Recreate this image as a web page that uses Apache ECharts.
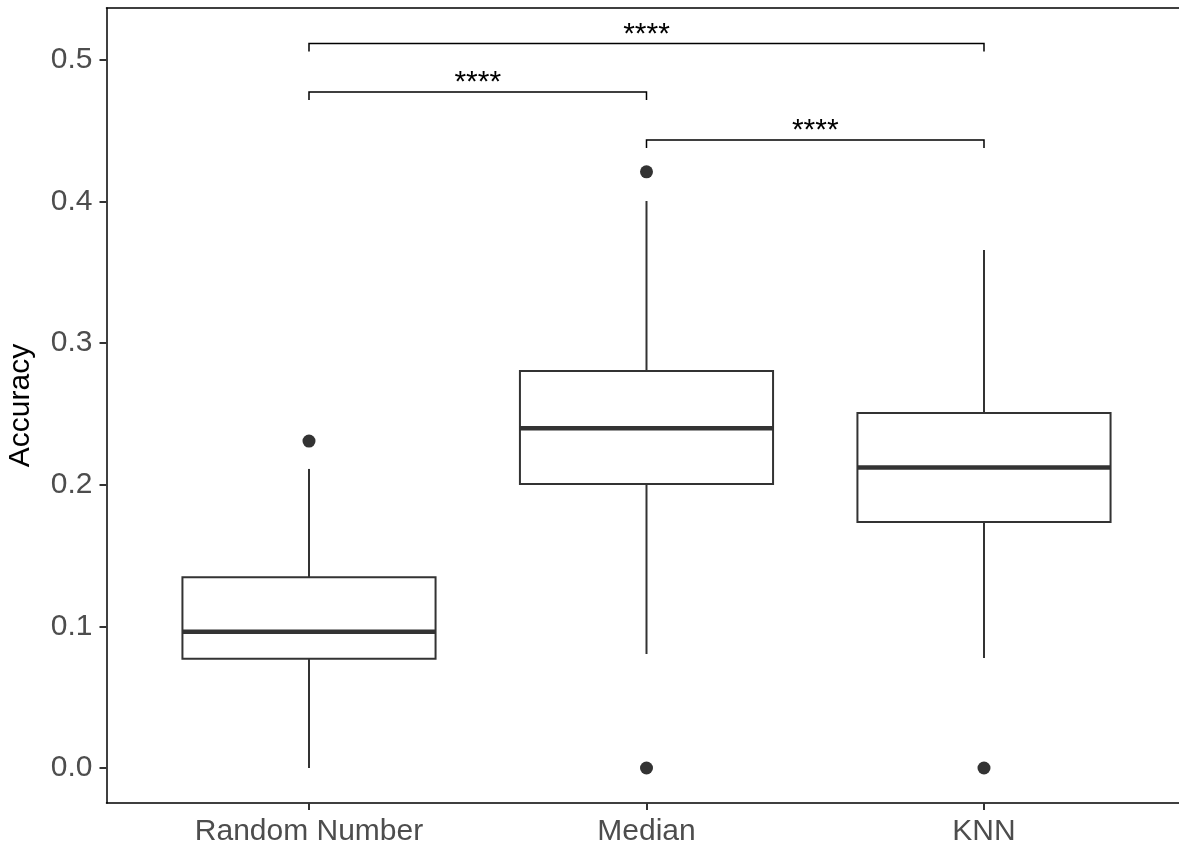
<!DOCTYPE html>
<html>
<head>
<meta charset="utf-8">
<script src="https://cdn.jsdelivr.net/npm/echarts@6/dist/echarts.min.js"></script>
<style>
  html, body { margin: 0; padding: 0; background: #fff; }
  #main { width: 1179px; height: 851px; }
</style>
</head>
<body>
<div id="main"></div>
<script>
const categories = ['Random Number', 'Median', 'KNN'];
const whiskerLow = [0.0, 0.0805, 0.0777];
const q1 = [0.0772, 0.2006, 0.1737];
const medians = [0.0963, 0.240, 0.2122];
const q3 = [0.1347, 0.2804, 0.2507];
const whiskerHigh = [0.2112, 0.4004, 0.3658];
const outliers = [[1, 0.2309], [2, 0.421], [2, 0.0], [3, 0.0]];
const yTicks = [0, 0.1, 0.2, 0.3, 0.4, 0.5];
const bracketFrom = [1, 1, 2];
const bracketTo = [3, 2, 3];
const bracketY = [0.5117, 0.4774, 0.4435];
const bracketLabel = ['****', '****', '****'];

const font = 'Liberation Sans, Arial, sans-serif';
const dark = '#333333';

const boxData = categories.map((c, i) => [i + 1, whiskerLow[i], q1[i], medians[i], q3[i], whiskerHigh[i]]);
const bracketData = bracketFrom.map((v, i) => [v, bracketTo[i], bracketY[i], bracketLabel[i]]);

function renderBox(params, api) {
  const x = api.value(0);
  const half = api.size([0.75, 0])[0] / 2;
  const pLow = api.coord([x, api.value(1)]);
  const pQ1 = api.coord([x, api.value(2)]);
  const pMed = api.coord([x, api.value(3)]);
  const pQ3 = api.coord([x, api.value(4)]);
  const pHigh = api.coord([x, api.value(5)]);
  const lineStyle = { stroke: dark, lineWidth: 2, fill: null };
  return {
    type: 'group',
    children: [
      { type: 'line', shape: { x1: pHigh[0], y1: pHigh[1], x2: pQ3[0], y2: pQ3[1] }, style: lineStyle },
      { type: 'line', shape: { x1: pQ1[0], y1: pQ1[1], x2: pLow[0], y2: pLow[1] }, style: lineStyle },
      { type: 'rect', shape: { x: pQ3[0] - half, y: pQ3[1], width: half * 2, height: pQ1[1] - pQ3[1] },
        style: { stroke: dark, lineWidth: 2, fill: '#fff' } },
      { type: 'line', shape: { x1: pMed[0] - half, y1: pMed[1], x2: pMed[0] + half, y2: pMed[1] },
        style: { stroke: dark, lineWidth: 4.5 } }
    ]
  };
}

function renderBracket(params, api) {
  const a = api.coord([api.value(0), api.value(2)]);
  const b = api.coord([api.value(1), api.value(2)]);
  const drop = 8;
  return {
    type: 'group',
    children: [
      { type: 'polyline',
        shape: { points: [[a[0], a[1] + drop], a, b, [b[0], b[1] + drop]] },
        style: { stroke: '#000', lineWidth: 1.5, fill: null } },
      { type: 'text',
        style: { text: api.value(3), x: (a[0] + b[0]) / 2, y: a[1] - 9,
          align: 'center', verticalAlign: 'middle', fill: '#000',
          font: '30px ' + font } }
    ]
  };
}

const chart = echarts.init(document.getElementById('main'));
chart.setOption({
  backgroundColor: '#fff',
  animation: false,
  grid: { left: 106.5, right: 0, top: 8, bottom: 48, show: false, outerBoundsMode: 'none', containLabel: false },
  xAxis: [
    {
      type: 'value', min: 0.4, max: 3.5778,
      splitLine: { show: false },
      axisLine: { show: true, onZero: false, lineStyle: { color: '#000', width: 1.5 } },
      axisTick: { show: true, length: 7, lineStyle: { color: dark, width: 2 }, customValues: [1, 2, 3] },
      axisLabel: {
        customValues: [1, 2, 3], margin: 14,
        formatter: v => categories[Math.round(v) - 1],
        color: '#4D4D4D', fontSize: 30, fontFamily: font
      }
    },
    {
      type: 'value', position: 'top', min: 0.4, max: 3.5778,
      splitLine: { show: false },
      axisLine: { show: true, onZero: false, lineStyle: { color: '#000', width: 1.5 } },
      axisTick: { show: false },
      axisLabel: { show: false }
    }
  ],
  yAxis: {
    type: 'value', min: -0.0247, max: 0.5367,
    name: 'Accuracy', nameLocation: 'middle', nameGap: 71,
    nameTextStyle: { color: '#000', fontSize: 30, fontFamily: font },
    splitLine: { show: false },
    axisLine: { show: true, onZero: false, lineStyle: { color: '#000', width: 1.5 } },
    axisTick: { show: true, length: 7, lineStyle: { color: dark, width: 2 }, customValues: yTicks },
    axisLabel: {
      customValues: yTicks, margin: 14,
      formatter: v => v.toFixed(1),
      color: '#4D4D4D', fontSize: 30, fontFamily: font
    }
  },
  series: [
    {
      type: 'custom', renderItem: renderBox, data: boxData,
      encode: { x: 0, y: [1, 2, 3, 4, 5] }, z: 2
    },
    {
      type: 'scatter', data: outliers, symbol: 'circle', symbolSize: 13,
      itemStyle: { color: dark, opacity: 1 }, z: 3
    },
    {
      type: 'custom', renderItem: renderBracket, data: bracketData,
      encode: { x: [0, 1], y: 2 }, z: 4
    }
  ]
});
</script>
</body>
</html>
